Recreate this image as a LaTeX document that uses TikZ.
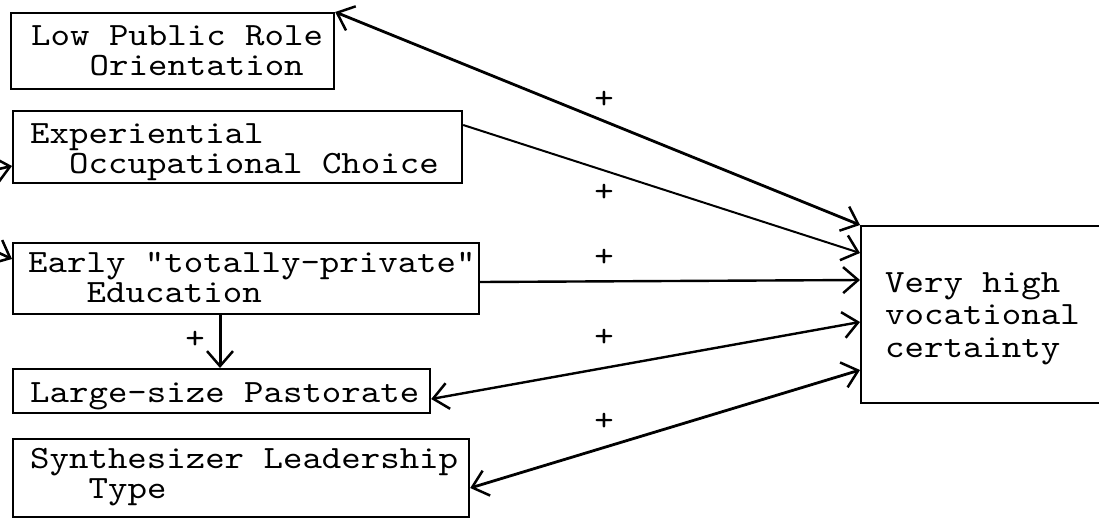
\documentclass[tikz,border=0pt]{standalone}
\usepackage{fontspec}
\newfontfamily\tw{lmmono10-regular}[Extension=.otf, FakeStretch=1.14]
\usetikzlibrary{arrows.meta}
\newcommand\firstl{\rule{0pt}{25pt}}
\begin{document}
\begin{tikzpicture}[x=1pt,y=-1pt,
  box/.style={draw, line width=2.2pt, anchor=north west, inner sep=0pt},
  txt/.style={anchor=north west, inner sep=0pt, align=left, font=\tw\fontsize{32.5}{30}\selectfont},
  plus/.style={inner sep=0pt, font=\tw\fontsize{32.5}{30}\selectfont},
  tipb/.tip={Straight Barb[length=15pt,width=26pt,line width=2.5pt]},
  arr/.style={line width=2pt, -tipb},
  darr/.style={line width=2.4pt, tipb-tipb}]
\useasboundingbox (0,0) rectangle (1099,519);
\clip (0,0) rectangle (1099,519);
% boxes
\node[box, minimum width=323pt, minimum height=76pt] (b1) at (10,12) {};
\node[box, minimum width=449pt, minimum height=72pt] (b2) at (12,110) {};
\node[box, minimum width=466pt, minimum height=71pt] (b3) at (12,242) {};
\node[box, minimum width=417pt, minimum height=44pt] (b4) at (12,368) {};
\node[box, minimum width=456pt, minimum height=78pt] (b5) at (12,438) {};
\node[box, minimum width=260pt, minimum height=177pt] (vb) at (860,225) {};
% texts
\node[txt] (t1) at (31,20) {\firstl Low Public Role\\\hspace*{58.5pt}Orientation};
\node[txt] (t2) at (30,118) {\firstl Experiential\\\hspace*{39pt}Occupational Choice};
\node[txt] (t3) at (28,247) {\firstl Early "totally-private"\\\hspace*{58.5pt}Education};
\node[txt] (t4) at (30,377) {\firstl Large-size Pastorate};
\node[txt] (t5) at (30,443) {\firstl Synthesizer Leadership\\\hspace*{58.5pt}Type};
\node[txt, font=\tw\fontsize{32.5}{32.5}\selectfont] (tv) at (885,267) {\firstl Very high\\vocational\\certainty};
% connectors
\draw[darr, line width=2.8pt] (b1.north east) -- (vb.north west);
\draw[arr] ([yshift=-15pt]b2.north east) -- ([yshift=-28pt]vb.north west);
\draw[arr, line width=2.4pt] ([yshift=-40pt]b3.north east) -- ([yshift=-55pt]vb.north west);
\draw[darr] ([yshift=-31pt]b4.north east) -- ([yshift=-97pt]vb.north west);
\draw[darr, line width=2.8pt] ([yshift=-50pt]b5.north east) -- ([yshift=-145pt]vb.north west);
\draw[arr, line width=3pt] ([xshift=208pt]b3.south west) -- ([xshift=208pt]b4.north west);
% fragments entering from the left edge
\coordinate (f1) at (-50,180);
\coordinate (f2) at (-50,230);
\draw[arr, line width=2.6pt] (f1) -- ([yshift=-56pt]b2.north west);
\draw[arr, line width=2.6pt] (f2) -- ([yshift=-17pt]b3.north west);
% labels
\node[plus] (p1) at (604,100) {+};
\node[plus] (p2) at (604,193) {+};
\node[plus] (p3) at (604,258) {+};
\node[plus] (p4) at (604,338) {+};
\node[plus] (p5) at (604,422) {+};
\node[plus] (p6) at (195,340) {+};
\end{tikzpicture}
\end{document}
